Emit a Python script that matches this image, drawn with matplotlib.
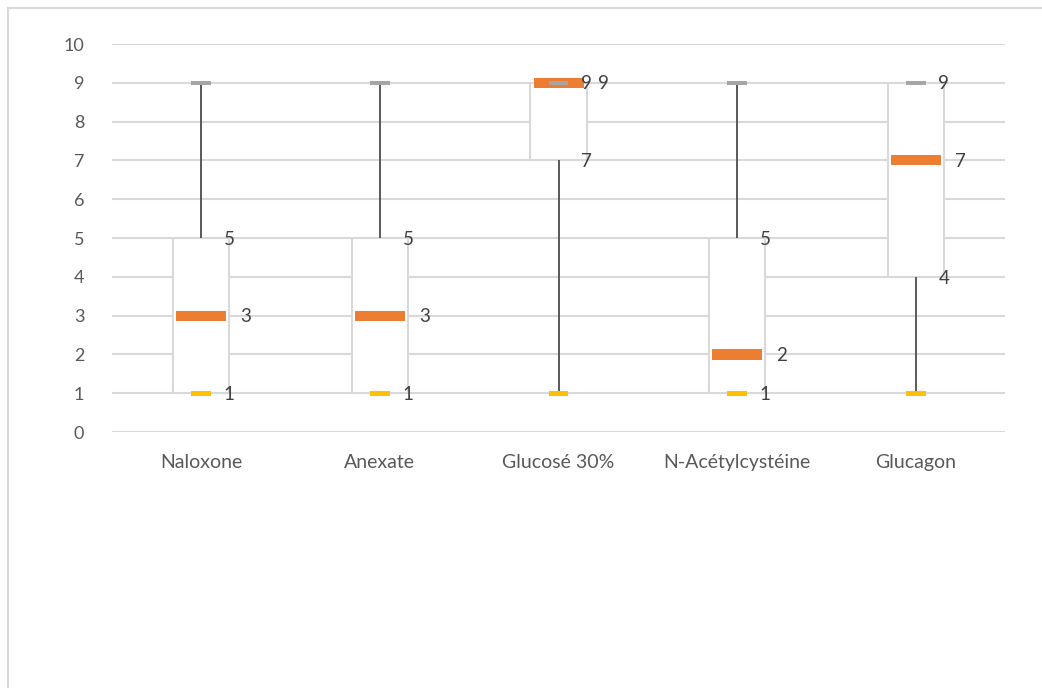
#!/usr/bin/env python3
"""Excel-style box chart (min / Q1 / median / Q3 / max) per antidote."""

import matplotlib

matplotlib.use("Agg")
import matplotlib.pyplot as plt
from matplotlib.lines import Line2D

CATEGORIES = ["Naloxone", "Anexate", "Glucosé 30%", "N-Acétylcystéine", "Glucagon"]
MINS = [1, 1, 1, 1, 1]
Q1 = [1, 1, 7, 1, 4]
MEDIANS = [3, 3, 9, 2, 7]
Q3 = [5, 5, 9, 5, 9]
MAXS = [9, 9, 9, 9, 9]

GRID = "#D9D9D9"
TEXT = "#595959"
WHISKER = "#595959"
ORANGE = "#ED7D31"
YELLOW = "#FFC000"
GREY = "#A5A5A5"

plt.rcParams["font.family"] = ["Lato", "DejaVu Sans"]

fig = plt.figure(figsize=(10.42, 6.88), dpi=100)
ax = fig.add_axes([0.1075, 0.372, 0.857, 0.564])

x = list(range(len(CATEGORIES)))

# boxes (white fill hides the gridlines)
ax.bar(x, [b - a for a, b in zip(Q1, Q3)], bottom=Q1, width=0.314,
       color="white", edgecolor=GRID, linewidth=1.5, zorder=2)

# whiskers
ax.vlines(x, Q3, MAXS, color=WHISKER, linewidth=1.4, zorder=3)
ax.vlines(x, MINS, Q1, color=WHISKER, linewidth=1.4, zorder=3)

# median bars
mh = 0.26
ax.bar(x, [mh] * len(x), bottom=[m - mh / 2 for m in MEDIANS], width=0.28,
       color=ORANGE, linewidth=0, zorder=4)

# min / max dashes
dh = 0.12
ax.bar(x, [dh] * len(x), bottom=[m - dh / 2 for m in MINS], width=0.11,
       color=YELLOW, linewidth=0, zorder=5)
ax.bar(x, [dh] * len(x), bottom=[m - dh / 2 for m in MAXS], width=0.11,
       color=GREY, linewidth=0, zorder=5)

# value labels: Q1 / Q3 on the right box edge, median a bit further right
for xi, lo, med, hi in zip(x, Q1, MEDIANS, Q3):
    for v in (lo, hi):
        ax.text(xi + 0.157, v - 0.03, str(v), ha="center", va="center",
                fontsize=13.5, color="#404040", zorder=6)
    ax.text(xi + 0.25, med - 0.03, str(med), ha="center", va="center",
            fontsize=13.5, color="#404040", zorder=6)

ax.set_xlim(-0.5, len(x) - 0.5)
ax.set_ylim(0, 10)
ax.set_yticks(range(0, 11))
ax.set_xticks(x)
ax.set_xticklabels(CATEGORIES)
ax.grid(axis="y", color=GRID, linewidth=1.5, zorder=0)
ax.set_axisbelow(True)
for s in ax.spines.values():
    s.set_visible(False)
ax.tick_params(axis="both", length=0, colors=TEXT)
ax.tick_params(axis="y", pad=20, labelsize=13)
ax.tick_params(axis="x", pad=16, labelsize=14)

# chart-area border (top and left edges visible)
fig.add_artist(Line2D([0.0077, 0.0077], [0, 0.988], transform=fig.transFigure,
                      color=GRID, linewidth=1.5))
fig.add_artist(Line2D([0.0077, 1.0], [0.988, 0.988], transform=fig.transFigure,
                      color=GRID, linewidth=1.5))

fig.savefig("out.png", dpi=100, facecolor="white")
